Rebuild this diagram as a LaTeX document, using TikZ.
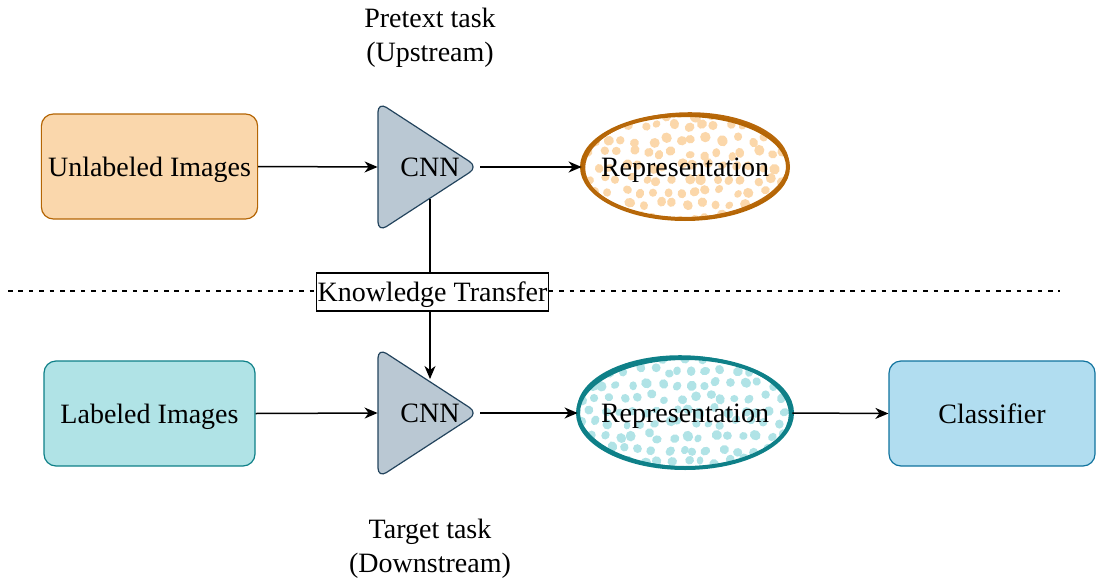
\documentclass[tikz,border=0pt]{standalone}
\usepackage{fontspec}
\setmainfont{Liberation Serif}
\usetikzlibrary{arrows.meta}
\definecolor{orfill}{HTML}{FAD7AC}
\definecolor{orline}{HTML}{B46504}
\definecolor{orline2}{HTML}{B8680A}
\definecolor{ordot}{HTML}{FBD7AA}
\definecolor{tlfill}{HTML}{B0E3E6}
\definecolor{tlline}{HTML}{0E8088}
\definecolor{tldot}{HTML}{B0E3E6}
\definecolor{blfill}{HTML}{B1DDF0}
\definecolor{blline}{HTML}{10739E}
\definecolor{cnnfill}{HTML}{BAC8D3}
\definecolor{cnnline}{HTML}{23445D}
\tikzset{
  txt/.style={font=\fontsize{14}{17}\selectfont, text height=12.5pt, text depth=3pt},
  box/.style={txt, rounded corners=6pt, minimum width=105.5pt, minimum height=52.5pt, line width=0.6pt},
  plain/.style={font=\fontsize{14}{17}\selectfont, align=center, inner sep=0pt},
  conn/.style={line width=0.75pt, -{Stealth[length=6.5pt,width=5.5pt,inset=2pt]}},
  line/.style={line width=0.75pt},
  tri/.style={fill=cnnfill, draw=cnnline, line width=0.6pt, rounded corners=5pt},
}
\begin{document}
\begin{tikzpicture}[x=0.5pt,y=-0.5pt]
\useasboundingbox (0,0) rectangle (1096,583);

% dashed separator
\draw[line width=0.6pt, dash pattern=on 2.3pt off 2.9pt] (8,291) -- (1060,291);

% top row
\node[box, fill=orfill, draw=orline] (unl) at (149.5,166.5) {Unlabeled Images};
\draw[tri] (378,102) -- (478,167) -- (378,232) -- cycle;
\node[plain, minimum width=50pt, minimum height=65pt] (cnn1) at (428,167) {};
\node[plain, txt] at (430,167) {CNN};

% top ellipse with dots
\begin{scope}
  \clip (685,167) ellipse [x radius=101, y radius=50];
  \pgfmathsetseed{7}
  \foreach \row in {0,...,8} {
    \foreach \col in {0,...,15} {
      \pgfmathsetmacro{\xx}{582+\col*14+mod(\row,2)*7+4*rand}
      \pgfmathsetmacro{\yy}{114+\row*13+3.5*rand}
      \pgfmathsetmacro{\rr}{2.0+0.6*rnd}
      \pgfmathsetmacro{\ra}{\rr*(0.8+0.35*rnd)}
      \fill[ordot, rotate around={90*rnd:(\xx,\yy)}] (\xx,\yy) ellipse [x radius=\rr pt, y radius=\ra pt];
    }
  }
\end{scope}
\draw[orline, line width=2pt] (685,167) ellipse [x radius=103, y radius=52];
\draw[orline2, line width=1.2pt, rotate around={1.5:(685,167)}] (686,166) ellipse [x radius=102, y radius=52.5];
\node[plain, minimum width=103pt, minimum height=52pt] (rep1) at (685,167) {};
\node[plain, txt] at (685,167) {Representation};

\node[plain] (pre) at (430,38) {Pretext task\\(Upstream)};

% bottom row
\node[box, fill=tlfill, draw=tlline] (lab) at (149.5,413.5) {Labeled Images};
\draw[tri] (378,348) -- (478,413) -- (378,478) -- cycle;
\node[plain, minimum width=50pt, minimum height=65pt] (cnn2) at (428,413) {};
\node[plain, txt] at (430,413) {CNN};

\begin{scope}
  \clip (685,413) ellipse [x radius=105, y radius=53];
  \pgfmathsetseed{11}
  \foreach \row in {0,...,9} {
    \foreach \col in {0,...,16} {
      \pgfmathsetmacro{\xx}{576+\col*14+mod(\row,2)*7+4*rand}
      \pgfmathsetmacro{\yy}{358+\row*13+3.5*rand}
      \pgfmathsetmacro{\rr}{2.0+0.6*rnd}
      \pgfmathsetmacro{\ra}{\rr*(0.8+0.35*rnd)}
      \fill[tldot, rotate around={90*rnd:(\xx,\yy)}] (\xx,\yy) ellipse [x radius=\rr pt, y radius=\ra pt];
    }
  }
\end{scope}
\draw[tlline, line width=2pt] (685,413) ellipse [x radius=107, y radius=55];
\draw[tlline, line width=1.2pt, rotate around={-1.5:(685,413)}] (684,412) ellipse [x radius=106, y radius=55.5];
\node[plain, minimum width=107pt, minimum height=55pt] (rep2) at (685,413) {};
\node[plain, txt] at (685,413) {Representation};

\node[box, fill=blfill, draw=blline, minimum width=103pt] (cls) at (992,413.5) {Classifier};

\node[plain] (tgt) at (430,549) {Target task\\(Downstream)};

% knowledge transfer
\node[draw, fill=white, line width=0.6pt, txt, inner sep=0.5pt, minimum height=19pt] (kt) at (432.5,292) {Knowledge Transfer};
\coordinate (kstart) at (430,199);
\coordinate (kend) at (430,379);

% connectors
\draw[conn] (unl.east) -- (cnn1.west);
\draw[conn] (480,167) -- (rep1.west);
\draw[line] (kstart) -- (kstart |- kt.north);
\draw[conn] (kstart |- kt.south) -- (kend);
\draw[conn] (lab.east) -- (cnn2.west);
\draw[conn] (480,413) -- (rep2.west);
\draw[conn] (rep2.east) -- (cls.west);
\end{tikzpicture}
\end{document}
